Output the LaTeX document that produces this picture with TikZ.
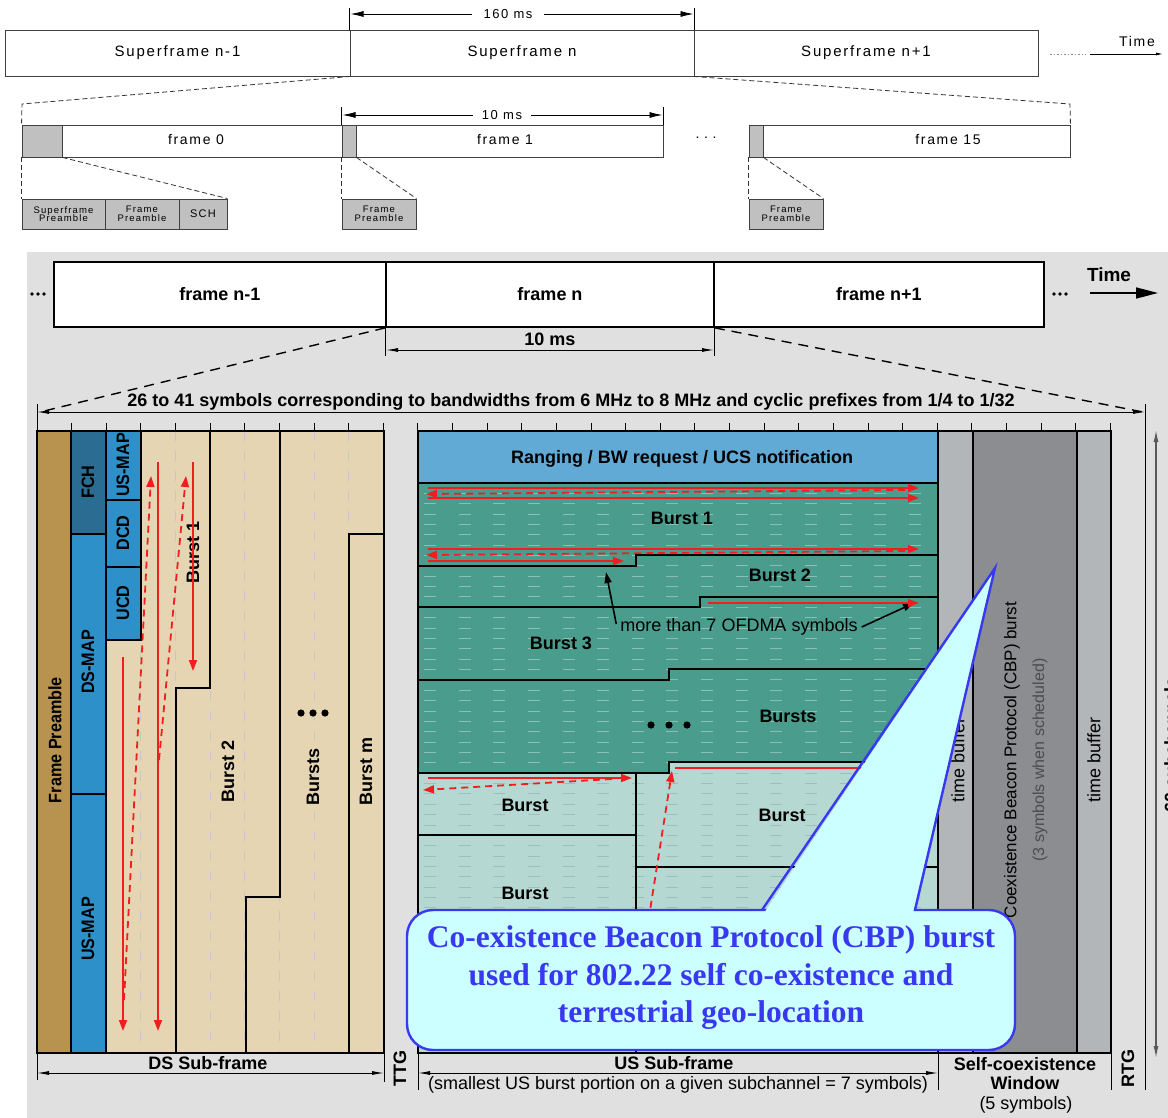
\documentclass[tikz,border=0pt]{standalone}
\usepackage{fontspec}
\setmainfont{Liberation Sans}
\newfontfamily\nb[FakeStretch=0.9]{Liberation Sans}
\newfontfamily\tf[LetterSpace=12]{Liberation Sans}
\newfontfamily\cs{Liberation Serif}
\usetikzlibrary{arrows.meta}
\newcommand\sz[1]{\fontsize{#1}{#1}\selectfont}
\definecolor{bgc}{HTML}{E0E0E0}
\definecolor{gry}{HTML}{C0C0C0}
\definecolor{tanc}{HTML}{B89350}
\definecolor{dkb}{HTML}{2B6C93}
\definecolor{mdb}{HTML}{2E90C8}
\definecolor{beige}{HTML}{E6D5B3}
\definecolor{rng}{HTML}{62AAD6}
\definecolor{tel}{HTML}{4A9D8C}
\definecolor{ltl}{HTML}{B5D9D2}
\definecolor{tbg}{HTML}{B3B6B9}
\definecolor{cbg}{HTML}{8B8D90}
\definecolor{rd}{HTML}{F01E1E}
\definecolor{cfill}{HTML}{CCFFFF}
\definecolor{cblue}{HTML}{3838F0}
\begin{document}
\begin{tikzpicture}[x=1pt,y=-1pt,
  tbox/.style={draw=black!75,line width=0.9pt,fill=white,inner sep=0pt,font=\tf\sz{15}},
  gbox/.style={draw=black!75,line width=0.9pt,fill=gry,inner sep=0pt,align=center,font=\tf\sz{9.5}},
  fbox/.style={draw=black,line width=1.8pt,fill=white,inner sep=0pt,minimum height=65pt,font=\bfseries\sz{18}},
  tdash/.style={black!80,line width=0.8pt,dash pattern=on 5pt off 3pt},
  ldash/.style={black,line width=1.4pt,dash pattern=on 10pt off 7pt},
  tdim/.style={black,line width=0.8pt},
  ldim/.style={black,line width=0.9pt},
  bl/.style={font=\bfseries\sz{18},inner sep=0pt},
  rl/.style={font=\bfseries\sz{18},inner sep=0pt,rotate=90},
  cl/.style={font=\nb\bfseries\sz{18},inner sep=0pt,rotate=90},
  nl/.style={font=\sz{17},inner sep=0pt,rotate=90},
  bd/.style={black,line width=1.8pt},
  redar/.style={rd,line width=1.8pt,-{Triangle[length=11pt,width=8pt]}},
  redda/.style={redar,dash pattern=on 7pt off 5pt},
  blkar/.style={black,line width=1.6pt,-{Triangle[length=11pt,width=7pt]}},
  dsl/.style={black!22,line width=0.8pt,dash pattern=on 10pt off 10pt}
]
\useasboundingbox (0,0) rectangle (1168,1118);
\clip (0,0) rectangle (1168,1118);
\fill[white] (0,0) rectangle (1168,1118);

% ================= TOP PART =================
\node[tbox,minimum width=345pt,minimum height=46pt] (sfa) at (177.5,53) {Superframe n-1};
\node[tbox,minimum width=344pt,minimum height=46pt] (sfb) at (522,53) {Superframe n};
\node[tbox,minimum width=344pt,minimum height=46pt] (sfc) at (866,53) {Superframe n+1};
% 160 ms
\draw[tdim] (sfb.north west) -- ++(0,-22);
\draw[tdim] (sfb.north east) -- ++(0,-22);
\node[font=\tf\sz{13},inner sep=1pt] (d160) at (508,14) {160 ms};
\draw[tdim,-{Latex[length=13pt,width=6pt]}] (d160.west) ++(-10,0) -- (350.5,14);
\draw[tdim,-{Latex[length=13pt,width=6pt]}] (d160.east) ++(10,0) -- (693.5,14);
% time
\draw[black!45,line width=0.8pt,dash pattern=on 1.5pt off 2pt] (1050,54) -- (1086,54);
\draw[tdim,-{Latex[length=7pt,width=3pt]}] (1090,54) -- (1163,54);
\node[font=\tf\sz{14},inner sep=0pt] (ttime) at (1137,41) {Time};

% frames
\node[tbox,minimum width=320pt,minimum height=32pt] (f0) at (182,141) {};
\node[gbox,minimum width=40pt,minimum height=32pt] (p0) at (42,141) {};
\node[font=\tf\sz{14}] at (196,140) {frame 0};
\node[tbox,minimum width=321pt,minimum height=32pt] (f1) at (502.5,141) {};
\node[gbox,minimum width=14pt,minimum height=32pt] (p1) at (349,141) {};
\node[font=\tf\sz{14}] at (505,140) {frame 1};
\node[font=\tf\sz{14}] at (706,138) {.\,\,.\,\,.};
\node[tbox,minimum width=321pt,minimum height=32pt] (f15) at (909.5,141) {};
\node[gbox,minimum width=14pt,minimum height=32pt] (p15) at (756,141) {};
\node[font=\tf\sz{14}] at (948,140) {frame 15};
% 10 ms top
\draw[tdim] (f1.north west) -- ++(0,-18);
\draw[tdim] (f1.north east) -- ++(0,-18);
\node[font=\tf\sz{13},inner sep=1pt] (d10) at (502,115) {10 ms};
\draw[tdim,-{Latex[length=13pt,width=6pt]}] (d10.west) ++(-8,0) -- (342.5,115);
\draw[tdim,-{Latex[length=13pt,width=6pt]}] (d10.east) ++(8,0) -- (662.5,115);
% small boxes
\node[gbox,minimum width=83pt,minimum height=30pt] (s1) at (63.5,214) {Superframe\\[-1pt]Preamble};
\node[gbox,minimum width=74pt,minimum height=30pt] (s2) at (142,214) {Frame\\[-1pt]Preamble};
\node[gbox,minimum width=48pt,minimum height=30pt,font=\tf\sz{11}] (s3) at (203,214) {SCH};
\node[gbox,minimum width=74pt,minimum height=30pt] (s4) at (379,214) {Frame\\[-1pt]Preamble};
\node[gbox,minimum width=74pt,minimum height=30pt] (s5) at (786,214) {Frame\\[-1pt]Preamble};
% dashed zoom lines top
\draw[tdash] (sfa.south east) -- (22,104) -- (p0.north west);
\draw[tdash] (sfc.south west) -- (1070,104) -- (f15.north east);
\draw[tdash] (p0.south west) -- (s1.north west);
\draw[tdash] (p0.south east) -- (s3.north east);
\draw[tdash] (p1.south west) -- (s4.north west);
\draw[tdash] (p1.south east) -- (s4.north east);
\draw[tdash] (p15.south west) -- (s5.north west);
\draw[tdash] (p15.south east) -- (s5.north east);

% ================= BOTTOM PART =================
\fill[bgc] (27,252) rectangle (1168,1118);
\node[fbox,minimum width=332pt] (fa) at (220,294.5) {frame n-1};
\node[fbox,minimum width=328pt] (fb) at (550,294.5) {frame n};
\node[fbox,minimum width=330pt] (fc) at (879,294.5) {frame n+1};
\foreach \xx in {32,38,44} \fill (\xx,294) circle (1.8pt);
\foreach \xx in {1054,1060,1066} \fill (\xx,294) circle (1.8pt);
\draw[black,line width=1.6pt,-{Triangle[length=22pt,width=11pt]}] (1090,293) -- (1158,293);
\node[font=\bfseries\sz{19},inner sep=0pt] at (1109,275) {Time};
% 10 ms
\draw[ldim] (fb.south west) -- ++(0,28);
\draw[ldim] (fb.south east) -- ++(0,28);
\draw[ldim,{Latex[length=12pt,width=4pt]}-{Latex[length=12pt,width=4pt]}] (386,350) -- (714,350);
\node[bl] at (550,339) {10 ms};
% dashed zoom lines
\draw[ldash] (fb.south west) -- (40,412);
\draw[ldash] (fb.south east) -- (1143,412);
% symbols dimension
\draw[ldim] (37,404) -- (37,431);
\draw[ldim] (1145,404) -- (1145,1090);
\draw[ldim,{Latex[length=12pt,width=4pt]}-{Latex[length=12pt,width=4pt]}] (37,412) -- (1145,412);
\node[bl,fill=bgc,inner xsep=0pt] at (571,402) {26 to 41 symbols corresponding to bandwidths from 6 MHz to 8 MHz and cyclic prefixes from 1/4 to 1/32};
\foreach \k in {1,...,31} \draw[ldim] ({37+34.625*\k},423) -- ++(0,8);

% ---- DS sub-frame ----
\fill[beige] (106,431) rectangle (384,1053);
\fill[tanc] (37,431) rectangle (71,1053);
\fill[dkb] (71,431) rectangle (106,534);
\fill[mdb] (71,534) rectangle (106,1053);
\fill[mdb] (106,431) rectangle (141,640);
\foreach \k in {3,...,9} \draw[dsl] ({37+34.625*\k},431) -- ++(0,622);
\draw[bd] (37,431) rectangle (384,1053);
\draw[bd] (71,431) -- (71,1053);
\draw[bd] (106,431) -- (106,1053);
\draw[bd] (71,534) -- (106,534);
\draw[bd] (71,794) -- (106,794);
\draw[bd] (106,500) -- (141,500);
\draw[bd] (106,567) -- (141,567);
\draw[bd] (141,431) -- (141,640) -- (106,640);
\draw[bd] (210,431) -- (210,688) -- (176,688) -- (176,1053);
\draw[bd] (280,431) -- (280,897) -- (246,897) -- (246,1053);
\draw[bd] (384,534) -- (349,534) -- (349,1053);
\node[cl] at (55,740) {Frame Preamble};
\node[cl] at (88,482) {FCH};
\node[cl] at (88,662) {DS-MAP};
\node[cl] at (88,929) {US-MAP};
\node[cl] at (123,465) {US-MAP};
\node[cl] at (123,533) {DCD};
\node[cl] at (123,603) {UCD};
\node[rl] at (193,552) {Burst 1};
\node[rl] at (228,771) {Burst 2};
\node[rl] at (313,777) {Bursts};
\node[rl] at (366,771) {Burst m};
\foreach \yy in {301,313,325} \fill (\yy,713) circle (3.6pt);
% DS red arrows
\draw[redar] (158,462) -- (158,1031);
\draw[redar] (193,462) -- (193,671);
\draw[redar] (123,657) -- (123,1031);
\draw[redda] (124,1000) -- (151,476);
\draw[redda] (159,760) -- (186,476);

% ---- US sub-frame ----
\fill[ltl] (418,483) rectangle (938,1053);
\fill[tel] (418,483) -- (938,483) -- (938,762) -- (669,762) -- (669,773) -- (418,773) -- cycle;
\fill[rng] (418,431) rectangle (938,483);
\begin{scope}
\clip (418,483) -- (938,483) -- (938,762) -- (669,762) -- (669,773) -- (418,773) -- cycle;
\foreach \k in {6,...,59} \draw[white,opacity=0.35,line width=0.8pt,dash pattern=on 12pt off 22.625pt,dash phase=-6pt] (418,{431+10.367*\k}) -- (938,{431+10.367*\k});
\end{scope}
\begin{scope}
\clip (418,773) -- (669,773) -- (669,762) -- (938,762) -- (938,1053) -- (418,1053) -- cycle;
\foreach \k in {6,...,59} \draw[black,opacity=0.12,line width=0.8pt,dash pattern=on 12pt off 22.625pt,dash phase=-6pt] (418,{431+10.367*\k}) -- (938,{431+10.367*\k});
\end{scope}
\draw[bd] (418,431) rectangle (938,1053);
\draw[bd] (418,483) -- (938,483);
\draw[bd] (418,566) -- (636,566) -- (636,555) -- (938,555);
\draw[bd] (418,607) -- (700,607) -- (700,597) -- (938,597);
\draw[bd] (418,680) -- (669,680) -- (669,669) -- (938,669);
\draw[bd] (418,773) -- (669,773) -- (669,762) -- (938,762);
\draw[bd] (636,773) -- (636,1053);
\draw[bd] (418,835) -- (636,835);
\draw[bd] (636,867) -- (938,867);
\node[bl] at (682,459) {Ranging / BW request / UCS notification};
\node[bl] at (682,518) {Burst 1};
\node[bl] at (780,575) {Burst 2};
\node[bl] at (561,643) {Burst 3};
\node[bl] at (788,716) {Bursts};
\foreach \xx in {651,669,687} \fill (\xx,725) circle (3.6pt);
\node[bl] at (525,805) {Burst};
\node[bl] at (525,893) {Burst};
\node[bl] at (782,815) {Burst};
\node[font=\sz{18},inner sep=0pt] (ofdma) at (739,627) {more than 7 OFDMA symbols};
\draw[blkar] (ofdma.west) ++(-4,-3) -- (606,572);
\draw[blkar] (ofdma.east) ++(4,0) -- (914,603);
% US red arrows
\draw[redar] (428,488) -- (919,488);
\draw[redda] (905,490) -- (426,494);
\draw[redar] (428,498) -- (919,498);
\draw[redar] (428,549) -- (919,549);
\draw[redda] (905,551) -- (426,555);
\draw[redar] (428,561) -- (624,561);
\draw[redar] (708,603) -- (919,603);
\draw[redar] (428,778) -- (632,778);
\draw[redda] (612,779) -- (423,790);
\draw[rd,line width=1.8pt] (675,768) -- (920,768);
\draw[redda] (628,1050) -- (672,771);

% ---- self-coexistence window ----
\fill[tbg] (938,431) rectangle (973,1053);
\fill[cbg] (973,431) rectangle (1077,1053);
\fill[tbg] (1077,431) rectangle (1111,1053);
\draw[bd] (938,431) rectangle (1111,1053);
\draw[bd] (973,431) -- (973,1053);
\draw[bd] (1077,431) -- (1077,1053);
\node[nl,font=\sz{18}] at (958,760) {time buffer};
\node[nl] at (1012,760) {Coexistence Beacon Protocol (CBP) burst};
\node[nl,text=black!70,font=\sz{16}] at (1040,760) {(3 symbols when scheduled)};
\node[nl,font=\sz{18}] at (1094,760) {time buffer};
% 60 subchannels
\draw[black!65,line width=1.3pt,{Latex[length=12pt,width=5pt]}-{Latex[length=12pt,width=5pt]}] (1156,430) -- (1156,1058);
\node[rl] at (1171,745) {60 subchannels};

% ---- bottom labels ----
\draw[ldim] (37,1053) -- (37,1080);
\draw[ldim] (384,1053) -- (384,1082);
\draw[ldim] (418,1053) -- (418,1090);
\draw[ldim] (938,1053) -- (938,1090);
\draw[ldim] (1111,1053) -- (1111,1090);
\draw[ldim,{Latex[length=12pt,width=4pt]}-{Latex[length=12pt,width=4pt]}] (37,1073) -- (384,1073);
\draw[ldim,{Latex[length=12pt,width=4pt]}-{Latex[length=12pt,width=4pt]}] (418,1073) -- (938,1073);
\node[bl] at (208,1063) {DS Sub-frame};
\node[bl] at (674,1063) {US Sub-frame};
\node[font=\sz{18},inner sep=0pt] at (678,1085) {(smallest US burst portion on a given subchannel = 7 symbols)};
\node[font=\bfseries\sz{18},inner sep=0pt,align=center] at (1025,1074) {Self-coexistence\\[1pt]Window};
\node[font=\sz{18},inner sep=0pt] at (1026,1105) {(5 symbols)};
\node[rl] at (400,1068) {TTG};
\node[rl] at (1128,1068) {RTG};

% ---- callout ----
\node[draw=cblue,fill=cfill,line width=2.4pt,rounded corners=26pt,minimum width=608pt,minimum height=140pt,inner sep=0pt] (cbp) at (711,980) {};
\fill[cfill] (764,913) -- (995,568) -- (913,913) -- cycle;
\draw[cblue,line width=2.4pt,line join=miter] (762,910) -- (995,568) -- (915,910);
\node[font=\cs\bfseries\sz{31.5},text=cblue,align=center,inner sep=0pt] at (711,978) {Co-existence Beacon Protocol (CBP) burst\\[6pt]used for 802.22 self co-existence and\\[6pt]terrestrial geo-location};
\end{tikzpicture}
\end{document}
